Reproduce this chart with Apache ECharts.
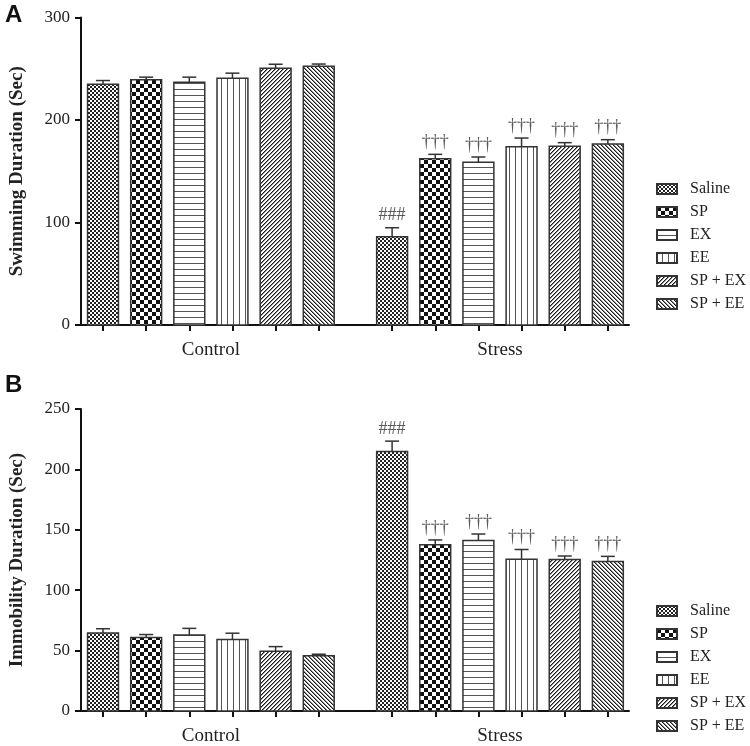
<!DOCTYPE html>
<html><head><meta charset="utf-8">
<script src="https://cdn.jsdelivr.net/npm/echarts@6/dist/echarts.min.js"></script>
<style>html,body{margin:0;padding:0;background:#fff}#c{width:750px;height:746px}</style>
</head><body><div id="c"></div>
<script>
// ---------- data ----------
const groups = ['Control', 'Stress'];
const treatments = ['Saline', 'SP', 'EX', 'EE', 'SP + EX', 'SP + EE'];

const swimControl    = [235.0, 239.3, 236.8, 240.7, 250.4, 252.4];
const swimControlErr = [3.5, 2.5, 5.0, 5.0, 4.0, 2.2];
const swimStress     = [86.1, 162.3, 158.7, 174.0, 174.3, 176.6];
const swimStressErr  = [8.8, 4.2, 5.2, 8.4, 3.6, 4.2];
const swimStressMarks = ['###', '†††', '†††', '†††', '†††', '†††'];

const immControl    = [64.6, 60.8, 63.0, 59.2, 49.4, 45.7];
const immControlErr = [3.5, 2.5, 5.4, 5.2, 3.9, 1.3];
const immStress     = [214.8, 137.6, 141.1, 125.6, 125.4, 123.7];
const immStressErr  = [8.6, 4.0, 5.4, 8.1, 2.9, 4.3];
const immStressMarks = ['###', '†††', '†††', '†††', '†††', '†††'];

const swimTicks = {min: 0, max: 300, interval: 100};
const immTicks  = {min: 0, max: 250, interval: 50};

// ---------- layout helpers ----------
const groupStride = 6.7;   // slot distance between first bars of the two groups
const barW = 0.716;        // bar width in slot units
const xPos = (g, i) => g * groupStride + i;
const SERIF = '"Liberation Serif","Times New Roman",serif';

// ---------- patterns ----------
function pattern(kind) {
  const c = document.createElement('canvas');
  const ctx = c.getContext('2d');
  let n;
  if (kind === 'fine') {
    n = 4; c.width = c.height = n;
    ctx.fillStyle = '#fff'; ctx.fillRect(0, 0, n, n);
    ctx.fillStyle = '#222'; ctx.fillRect(0, 0, 2, 2); ctx.fillRect(2, 2, 2, 2);
  } else if (kind === 'check') {
    n = 8; c.width = c.height = n;
    ctx.fillStyle = '#fff'; ctx.fillRect(0, 0, n, n);
    ctx.fillStyle = '#111'; ctx.fillRect(0, 0, 4, 4); ctx.fillRect(4, 4, 4, 4);
  } else if (kind === 'h') {
    n = 6; c.width = c.height = n;
    ctx.fillStyle = '#fff'; ctx.fillRect(0, 0, n, n);
    ctx.fillStyle = '#555'; ctx.fillRect(0, 5, n, 1);
  } else if (kind === 'v') {
    n = 6; c.width = c.height = n;
    ctx.fillStyle = '#fff'; ctx.fillRect(0, 0, n, n);
    ctx.fillStyle = '#555'; ctx.fillRect(5, 0, 1, n);
  } else if (kind === 'fwd' || kind === 'back') {
    n = 4; c.width = c.height = n;
    ctx.fillStyle = '#fff'; ctx.fillRect(0, 0, n, n);
    for (let i = 0; i < n; i++) {
      const y = kind === 'fwd' ? n - 1 - i : i;
      ctx.fillStyle = '#1a1a1a'; ctx.fillRect(i, y, 1, 1);
      ctx.fillStyle = '#888'; ctx.fillRect((i + 1) % n, y, 1, 1);
    }
  }
  return {image: c, repeat: 'repeat'};
}
const patterns = ['fine', 'check', 'h', 'v', 'fwd', 'back'].map(pattern);

// ---------- series builder ----------
function makeSeries(gridIdx, ctrl, ctrlErr, str, strErr, marks) {
  return treatments.map((name, i) => ({
    type: 'custom',
    name: name,
    xAxisIndex: gridIdx, yAxisIndex: gridIdx,
    itemStyle: {color: patterns[i], borderColor: '#333', borderWidth: 1},
    data: [
      [xPos(0, i), ctrl[i], ctrlErr[i]],
      [xPos(1, i), str[i], strErr[i]]
    ],
    encode: {x: 0, y: 1},
    renderItem: function (params, api) {
      const x = api.value(0), v = api.value(1), e = api.value(2);
      const mark = params.dataIndex === 1 ? marks[i] : '';
      const top = api.coord([x, v]);
      const base = api.coord([x, 0]);
      const errTop = api.coord([x, v + e]);
      const w = api.size([barW, 0])[0];
      const capW = 14;
      const children = [
        {type: 'rect', shape: {x: top[0] - w / 2, y: top[1], width: w, height: base[1] - top[1]},
         style: {fill: patterns[i], stroke: '#333', lineWidth: 1.5}},
        {type: 'line', shape: {x1: top[0], y1: top[1], x2: errTop[0], y2: errTop[1]},
         style: {stroke: '#333', lineWidth: 1.5}},
        {type: 'line', shape: {x1: top[0] - capW / 2, y1: errTop[1], x2: top[0] + capW / 2, y2: errTop[1]},
         style: {stroke: '#333', lineWidth: 1.5}}
      ];
      if (mark) {
        children.push({type: 'text', x: top[0], y: errTop[1] - 3,
          style: {text: mark, fill: '#5a5a5a', font: '18px ' + SERIF, align: 'center', verticalAlign: 'bottom'}});
      }
      return {type: 'group', children: children};
    }
  }));
}

function xAxis(gridIdx) {
  const ticks = [];
  groups.forEach((g, gi) => treatments.forEach((t, i) => ticks.push(xPos(gi, i))));
  const centers = groups.map((g, gi) => xPos(gi, (treatments.length - 1) / 2));
  return {
    type: 'value', gridIndex: gridIdx, min: -0.51, max: xPos(1, treatments.length - 1) + 0.49,
    splitLine: {show: false},
    axisLine: {show: true, onZero: false, lineStyle: {color: '#111', width: 2}},
    axisTick: {show: true, customValues: ticks, length: 6, lineStyle: {color: '#111', width: 2}},
    axisLabel: {show: true, customValues: centers, margin: 16,
      formatter: v => groups[Math.round((v - centers[0]) / groupStride)],
      fontFamily: SERIF, fontSize: 19, color: '#222'}
  };
}

function yAxis(gridIdx, t, title) {
  return {
    type: 'value', gridIndex: gridIdx, min: t.min, max: t.max, interval: t.interval,
    name: title, nameLocation: 'middle', nameGap: 54,
    nameTextStyle: {fontFamily: SERIF, fontSize: 19, fontWeight: 'bold', color: '#222'},
    splitLine: {show: false},
    axisLine: {show: true, onZero: false, lineStyle: {color: '#111', width: 2}},
    axisTick: {show: true, length: 6, lineStyle: {color: '#111', width: 2}},
    axisLabel: {fontFamily: SERIF, fontSize: 17, color: '#222', margin: 11}
  };
}

function legend(top) {
  return {
    data: treatments, orient: 'vertical', left: 651, top: top,
    icon: 'rect', itemWidth: 20, itemHeight: 10, itemGap: 7,
    selectedMode: false,
    textStyle: {fontFamily: SERIF, fontSize: 16, color: '#222', lineHeight: 16, padding: [0, 0, 0, 8]}
  };
}

const chart = echarts.init(document.getElementById('c'), null, {renderer: 'canvas'});
chart.setOption({
  animation: false,
  backgroundColor: '#fff',
  title: [
    {text: 'A', left: 0, top: -2, textStyle: {fontFamily: '"Liberation Sans",Arial,sans-serif', fontSize: 24, fontWeight: 'bold', color: '#111'}},
    {text: 'B', left: 0, top: 368, textStyle: {fontFamily: '"Liberation Sans",Arial,sans-serif', fontSize: 24, fontWeight: 'bold', color: '#111'}}
  ],
  grid: [
    {left: 79, right: 121, top: 17.5, height: 307.5},
    {left: 79, right: 121, top: 409, height: 307.5}
  ],
  xAxis: [xAxis(0), xAxis(1)],
  yAxis: [yAxis(0, swimTicks, 'Swimming Duration (Sec)'), yAxis(1, immTicks, 'Immobility Duration (Sec)')],
  legend: [legend(176), legend(598)],
  series: [
    ...makeSeries(0, swimControl, swimControlErr, swimStress, swimStressErr, swimStressMarks),
    ...makeSeries(1, immControl, immControlErr, immStress, immStressErr, immStressMarks)
  ]
});
</script></body></html>
